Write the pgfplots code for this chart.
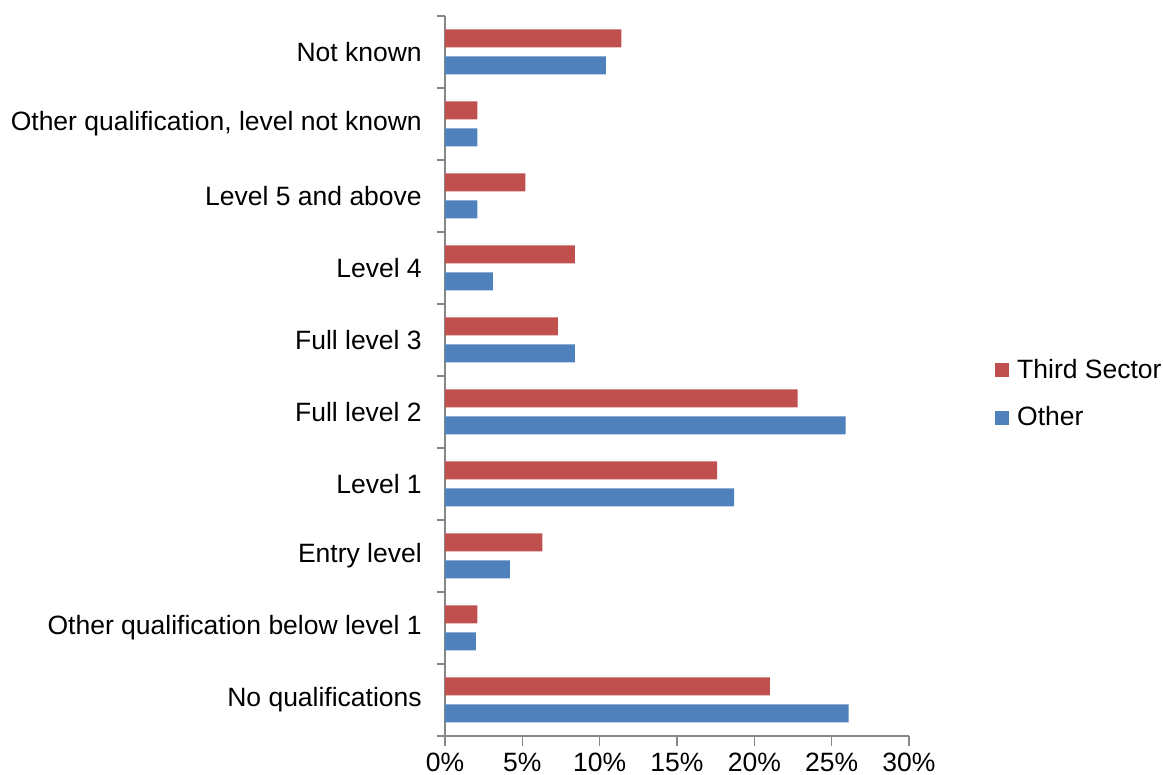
\documentclass[border=0pt]{standalone}
\usepackage{fontspec}
\setmainfont{Liberation Sans}
\usepackage{pgfplots}
\usepackage{pgfplotstable}
\pgfplotsset{compat=1.18}
\definecolor{thirdred}{HTML}{C0504D}
\definecolor{otherblue}{HTML}{4F81BD}
\definecolor{axisgray}{HTML}{868686}

% Share of each group by highest qualification (%)
\pgfplotstableread{
pos third other
0 21.0 26.1
1 2.1 2.0
2 6.3 4.2
3 17.6 18.7
4 22.8 25.9
5 7.3 8.4
6 8.4 3.1
7 5.2 2.1
8 2.1 2.1
9 11.4 10.4
}\qualtable

\begin{document}
\fontsize{13.25}{16}\selectfont
\begin{tikzpicture}
\begin{axis}[
  at={(0,0)}, anchor=south west,
  scale only axis, width=232pt, height=360pt,
  xbar, bar width=0.25,
  xmin=0, xmax=30, ymin=-0.5, ymax=9.5,
  axis x line*=bottom, axis y line*=left,
  axis line style={axisgray, line width=0.8pt},
  xtick={0,5,...,30},
  xticklabels={0\%,5\%,10\%,15\%,20\%,25\%,30\%},
  ytick={0,...,9},
  yticklabels={No qualifications, Other qualification below level 1, Entry level, Level 1, Full level 2, Full level 3, Level 4, Level 5 and above, {Other qualification, level not known}, Not known},
  minor ytick={-0.5,0.5,...,9.5},
  tick align=outside,
  major tick length=5pt, minor tick length=4pt,
  x tick style={axisgray, line width=0.8pt},
  major y tick style={draw=none},
  minor y tick style={axisgray, line width=0.8pt},
  ticklabel style={font=\fontsize{13.25}{16}\selectfont, text=black},
  xticklabel style={yshift=1pt},
  yticklabel style={xshift=-2pt},
  legend style={at={(1.185,0.475)}, anchor=west, draw=none, fill=none,
    inner sep=0pt, row sep=8pt, font=\fontsize{13.25}{16}\selectfont,
    cells={anchor=west},
    /tikz/every odd column/.append style={column sep=2pt}},
  legend image code/.code={\fill[#1] (0pt,-3.5pt) rectangle (7pt,3.5pt);},
]
\addplot[fill=thirdred, draw=none, bar shift=0.1875] table[x=third, y=pos] {\qualtable};
\addlegendentry{Third Sector}
\addplot[fill=otherblue, draw=none, bar shift=-0.1875] table[x=other, y=pos] {\qualtable};
\addlegendentry{Other}
\end{axis}
\pgfresetboundingbox
\path[use as bounding box] (-222.5pt,-19.5pt) rectangle (359pt,368pt);
\end{tikzpicture}
\end{document}
